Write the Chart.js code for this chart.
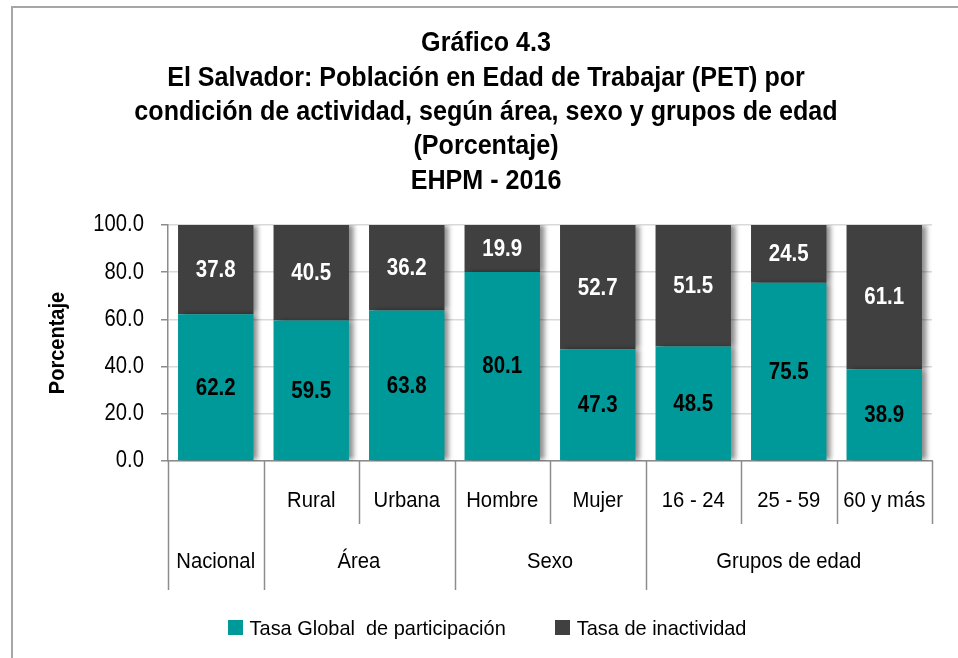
<!DOCTYPE html>
<html><head><meta charset="utf-8">
<script src="https://cdn.jsdelivr.net/npm/chart.js@4.4.1/dist/chart.umd.min.js"></script>
<style>
html,body{margin:0;padding:0;background:#fff;overflow:hidden}
#wrap{position:relative;width:958px;height:658px}
#frame{position:absolute;left:11px;top:6px;width:1000px;height:1000px;border-left:2px solid #a6a6a6;border-top:2px solid #a6a6a6;pointer-events:none}
</style></head><body>
<div id="wrap"><canvas id="c" width="958" height="658"></canvas><div id="frame"></div></div>
<script>
const categories = ['Nacional','Rural','Urbana','Hombre','Mujer','16 - 24','25 - 59','60 y más'];
const subLabels = ['','Rural','Urbana','Hombre','Mujer','16 - 24','25 - 59','60 y más'];
const groupLabels = ['Nacional','Área','Sexo','Grupos de edad'];
const groupSizes = [1,2,2,3];
const participacion = [62.2,59.5,63.8,80.1,47.3,48.5,75.5,38.9];
const inactividad = [37.8,40.5,36.2,19.9,52.7,51.5,24.5,61.1];
const yTicks = [0,20,40,60,80,100];
const yTitle = 'Porcentaje';
const seriesNames = ['Tasa Global  de participación','Tasa de inactividad'];
const titleLines = ['Gráfico 4.3','El Salvador: Población en Edad de Trabajar (PET) por','condición de actividad, según área, sexo y grupos de edad','(Porcentaje)','EHPM - 2016'];

const F = "'Liberation Sans',Arial,sans-serif";
const TEAL = '#009999', DARK = '#404040', LINE = '#8c8c8c';

// draws horizontally condensed text (like Arial Narrow look of the original)
function txt(c, t, x, y, font, sx, align, color, rot){
  c.save();
  c.font = font; c.fillStyle = color || '#000';
  c.textAlign = align || 'center'; c.textBaseline = 'middle';
  c.translate(x, y);
  if (rot) c.rotate(rot);
  c.scale(sx, 1);
  c.fillText(t, 0, 0);
  c.restore();
}

const shadowPlugin = {
  id:'shadowPlugin',
  beforeDatasetsDraw(chart){
    const c = chart.ctx; c.save();
    c.shadowColor='rgba(0,0,0,0.45)'; c.shadowOffsetX=5; c.shadowOffsetY=0; c.shadowBlur=5;
  },
  afterDatasetsDraw(chart){ chart.ctx.restore(); }
};

const valueLabels = {
  id:'valueLabels',
  afterDatasetsDraw(chart){
    const c = chart.ctx;
    chart.data.datasets.forEach((ds,i)=>{
      chart.getDatasetMeta(i).data.forEach((bar,j)=>{
        const p = bar.getProps(['x','y','base'],true);
        txt(c, ds.data[j].toFixed(1), p.x, (p.y+p.base)/2+1, 'bold 23px '+F, 0.89, 'center', i===0?'#000':'#fff');
      });
    });
  }
};

const textPlugin = {
  id:'textPlugin',
  afterDraw(chart){
    const c = chart.ctx, xs = chart.scales.x, ys = chart.scales.y, a = chart.chartArea;
    // title
    titleLines.forEach((t,i)=> txt(c, t, 486, 44 + 34.3*i, 'bold 27px '+F, 0.93));
    // y ticks and title
    yTicks.forEach(v => txt(c, v.toFixed(1), ys.right - 24, ys.getPixelForValue(v), '23px '+F, 0.88, 'right'));
    txt(c, yTitle, 58, (a.top+a.bottom)/2, 'bold 22px '+F, 0.91, 'center', '#000', -Math.PI/2);
    // x axis separators
    const step = xs.getPixelForValue(1)-xs.getPixelForValue(0);
    const edge = i => Math.round(xs.getPixelForValue(i)-step/2)+0.5;
    const y0 = a.bottom, y1 = a.bottom+63, y2 = a.bottom+129;
    c.save();
    c.strokeStyle = LINE; c.lineWidth = 1.5;
    const bounds = new Set([0]); let acc=0;
    groupSizes.forEach(g=>{acc+=g; bounds.add(acc);});
    for(let i=0;i<=categories.length;i++){
      const x = edge(i);
      const full = bounds.has(i) && i<categories.length;
      c.beginPath(); c.moveTo(x,y0); c.lineTo(x, full?y2:y1); c.stroke();
    }
    c.restore();
    subLabels.forEach((t,i)=>{ if(t) txt(c, t, xs.getPixelForValue(i), y0+40, '22px '+F, 0.92); });
    acc=0;
    groupLabels.forEach((t,k)=>{
      const l = xs.getPixelForValue(acc)-step/2;
      acc += groupSizes[k];
      const r = xs.getPixelForValue(acc-1)+step/2;
      txt(c, t, (l+r)/2, y0+101, '22px '+F, 0.92);
    });
    // legend
    const lf = '21px '+F, lsx = 0.95;
    c.save(); c.font = lf;
    const box=15, gapTxt=7, gapItem=49;
    const widths = seriesNames.map(t=>box+gapTxt+c.measureText(t).width*lsx);
    c.restore();
    const total = widths.reduce((s,w)=>s+w,0)+gapItem*(widths.length-1);
    let x = 487 - total/2; const yc = 628;
    const cols=[TEAL,DARK];
    seriesNames.forEach((t,i)=>{
      c.fillStyle=cols[i]; c.fillRect(Math.round(x), yc-8, box, box);
      txt(c, t, x+box+gapTxt, yc+1, lf, lsx, 'left');
      x += widths[i]+gapItem;
    });
  }
};

new Chart(document.getElementById('c'),{
  type:'bar',
  data:{
    labels:categories,
    datasets:[
      {label:seriesNames[0], data:participacion, backgroundColor:TEAL, borderWidth:0},
      {label:seriesNames[1], data:inactividad, backgroundColor:DARK, borderWidth:0}
    ]
  },
  options:{
    responsive:false, animation:false,
    devicePixelRatio:1,
    layout:{padding:{left:40,right:26,top:225,bottom:60}},
    datasets:{bar:{barPercentage:0.79,categoryPercentage:1}},
    plugins:{ legend:{display:false}, tooltip:{enabled:false}, title:{display:false} },
    scales:{
      x:{stacked:true,
        ticks:{display:false},
        grid:{display:false,drawTicks:false},
        border:{display:true,color:LINE,width:1.5},
        afterFit(s){ s.height = 137; }
      },
      y:{stacked:true,min:0,max:100,
        afterBuildTicks(s){ s.ticks = yTicks.map(v=>({value:v})); },
        ticks:{display:false},
        grid:{color:'#d9d9d9',tickColor:LINE,tickLength:7,lineWidth:1.5},
        border:{display:true,color:LINE,width:1.5},
        afterFit(s){ s.width = 128; }
      }
    }
  },
  plugins:[shadowPlugin,valueLabels,textPlugin]
});
</script>
</body></html>
